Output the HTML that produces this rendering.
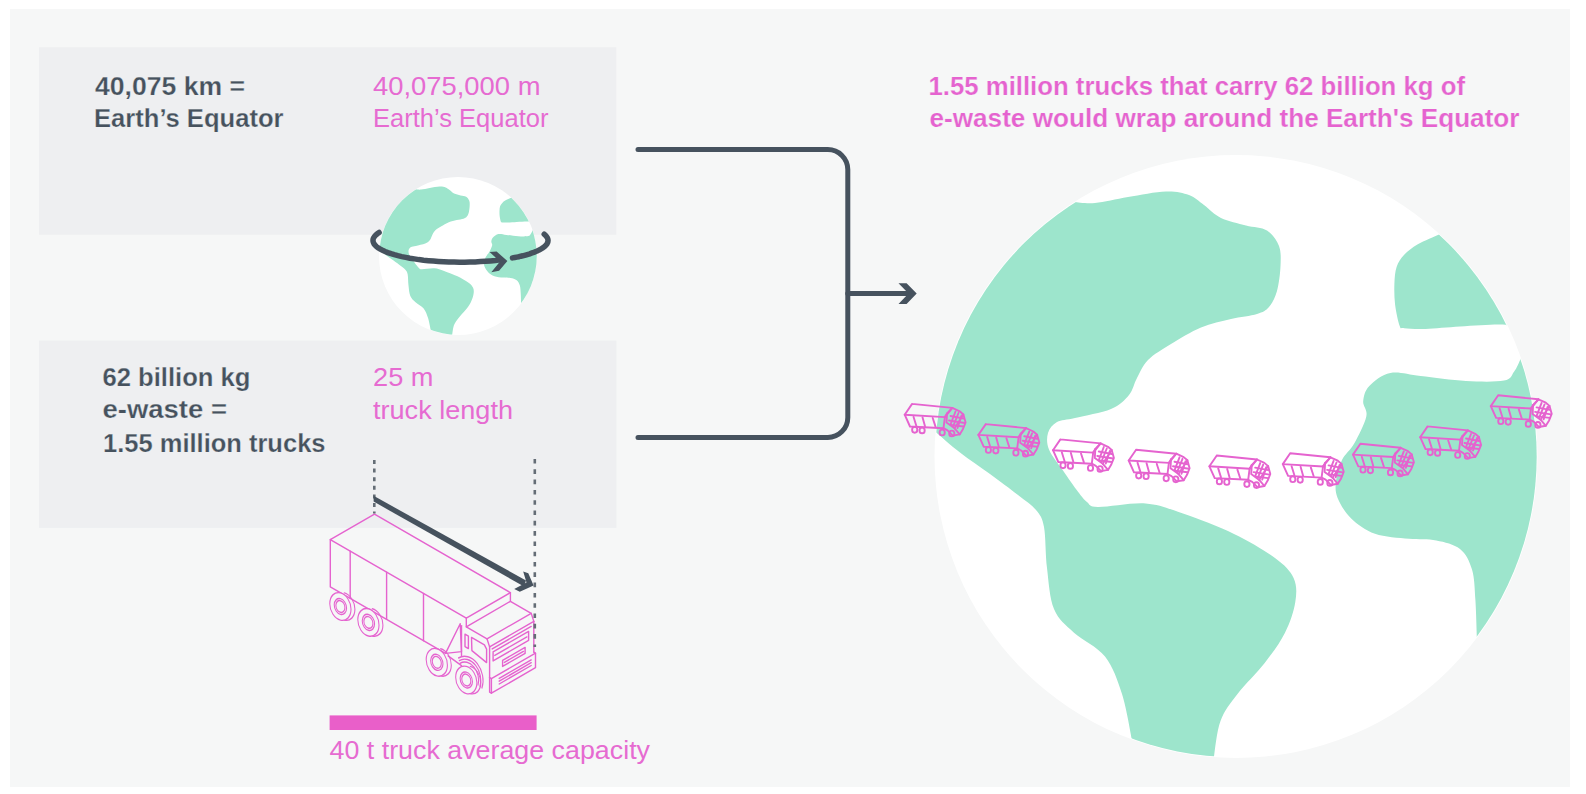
<!DOCTYPE html>
<html><head><meta charset="utf-8"><title>E-waste trucks</title>
<style>
html,body{margin:0;padding:0;background:#ffffff;width:1586px;height:794px;overflow:hidden}
svg{display:block}
text{font-family:"Liberation Sans",sans-serif}
</style></head><body>
<svg width="1586" height="794" viewBox="0 0 1586 794">
<defs>
<clipPath id="gclip"><circle cx="1236" cy="456.5" r="300.7"/></clipPath>
<g id="globe">
<circle cx="1236" cy="456.5" r="301.5" fill="#ffffff"/>
<g clip-path="url(#gclip)" fill="#9de5cc">
<path d="M1074.0,202.0 C1077.5,202.2 1086.0,203.8 1095.0,203.0 C1104.0,202.2 1116.2,198.9 1128.0,197.0 C1139.8,195.1 1155.8,191.8 1166.0,191.5 C1176.2,191.2 1182.7,192.8 1189.0,195.0 C1195.3,197.2 1198.7,201.2 1204.0,205.0 C1209.3,208.8 1214.0,214.6 1221.0,218.0 C1228.0,221.4 1238.3,223.4 1246.0,225.5 C1253.7,227.6 1261.5,227.1 1267.0,230.5 C1272.5,233.9 1276.8,240.1 1279.0,246.0 C1281.2,251.9 1280.8,258.5 1280.5,266.0 C1280.2,273.5 1278.9,284.2 1277.0,291.0 C1275.1,297.8 1272.3,303.2 1269.0,307.0 C1265.7,310.8 1263.3,312.0 1257.0,314.0 C1250.7,316.0 1240.3,316.8 1231.0,319.0 C1221.7,321.2 1211.0,323.3 1201.0,327.5 C1191.0,331.7 1179.8,338.6 1171.0,344.0 C1162.2,349.4 1153.7,354.3 1148.0,360.0 C1142.3,365.7 1140.2,372.2 1137.0,378.0 C1133.8,383.8 1133.3,389.8 1129.0,395.0 C1124.7,400.2 1120.0,405.2 1111.0,409.0 C1102.0,412.8 1084.0,415.8 1075.0,418.0 C1066.0,420.2 1061.5,419.5 1057.0,422.0 C1052.5,424.5 1049.3,428.4 1048.0,433.0 C1046.7,437.6 1046.5,443.2 1049.0,449.5 C1051.5,455.8 1058.2,463.6 1063.0,470.6 C1067.8,477.7 1074.0,486.6 1078.0,491.8 C1082.0,497.0 1083.7,499.5 1087.0,502.0 C1090.3,504.5 1088.2,506.8 1098.0,507.0 C1107.8,507.2 1131.4,502.3 1145.6,503.4 C1159.8,504.5 1168.3,508.5 1183.0,513.6 C1197.7,518.7 1218.7,526.6 1234.0,534.0 C1249.3,541.4 1265.1,550.7 1275.0,558.0 C1284.9,565.3 1290.2,570.7 1293.6,578.0 C1297.0,585.3 1296.7,592.9 1295.3,602.0 C1293.9,611.1 1290.1,622.5 1285.0,632.7 C1279.9,642.9 1272.6,652.8 1264.7,663.0 C1256.8,673.2 1244.9,684.3 1237.5,694.0 C1230.1,703.7 1224.5,710.2 1220.5,721.0 C1216.5,731.8 1214.8,752.2 1213.7,758.5 L1213.0,800.0 L1130.0,800.0 L1132.0,740.0 C1130.3,732.3 1126.5,707.9 1122.0,694.0 C1117.5,680.1 1113.0,666.7 1105.0,656.5 C1097.0,646.3 1082.5,640.6 1074.0,632.7 C1065.5,624.8 1058.5,619.8 1054.0,609.0 C1049.5,598.2 1048.7,581.7 1047.0,568.0 C1045.3,554.3 1045.8,536.7 1044.0,527.0 C1042.2,517.3 1040.3,515.3 1036.0,510.0 C1031.7,504.7 1025.7,501.0 1018.0,495.0 C1010.3,489.0 999.7,481.1 990.0,474.0 C980.3,466.9 969.2,459.7 960.0,452.5 C950.8,445.3 938.8,434.6 934.5,431.0 L880.0,431.0 L880.0,140.0 L1060.0,140.0Z"/>
<path d="M1439.0,234.4 C1435.5,236.0 1423.6,240.8 1417.8,244.2 C1412.0,247.6 1407.7,251.0 1404.2,254.8 C1400.7,258.6 1398.2,262.1 1396.6,266.9 C1395.0,271.7 1394.7,277.2 1394.4,283.5 C1394.2,289.8 1394.2,297.6 1395.1,304.7 C1396.0,311.8 1398.2,322.0 1399.7,325.9 C1401.2,329.8 1399.9,327.7 1404.2,328.2 C1408.5,328.7 1416.1,329.2 1425.4,328.9 C1434.7,328.6 1447.9,327.2 1460.0,326.5 C1472.1,325.8 1490.0,324.8 1497.8,324.6 C1505.6,324.4 1505.1,325.1 1506.6,325.2 L1600.0,325.0 L1600.0,180.0 L1460.0,180.0Z"/>
<path d="M1520.5,359.2 C1519.4,361.3 1516.8,368.2 1514.0,371.8 C1511.2,375.4 1512.0,379.1 1504.0,380.6 C1496.0,382.1 1479.9,381.8 1466.0,381.0 C1452.1,380.2 1433.2,377.3 1420.6,376.0 C1408.0,374.7 1399.0,371.3 1390.4,373.0 C1381.9,374.7 1373.8,381.3 1369.3,386.0 C1364.8,390.7 1363.7,396.2 1363.2,401.3 C1362.7,406.4 1367.8,409.3 1366.3,416.4 C1364.8,423.4 1358.2,436.3 1354.2,443.6 C1350.2,450.9 1345.0,453.8 1342.0,460.0 C1339.0,466.2 1336.7,474.7 1336.0,481.0 C1335.3,487.3 1335.1,491.8 1337.6,498.0 C1340.1,504.2 1345.0,512.4 1351.2,518.4 C1357.4,524.4 1365.4,530.3 1375.0,533.7 C1384.6,537.1 1398.8,537.7 1409.0,538.8 C1419.2,539.9 1427.8,538.8 1436.3,540.5 C1444.8,542.2 1454.0,544.2 1460.0,549.0 C1466.0,553.8 1469.4,561.0 1472.0,569.5 C1474.6,578.0 1474.6,588.2 1475.4,600.0 C1476.2,611.8 1476.7,633.3 1477.0,640.0 L1600.0,640.0 L1600.0,355.0 L1522.0,355.0Z"/>
</g>
</g>
<symbol id="st" overflow="visible">
<g fill="none" stroke="#e563cf" stroke-width="1.9" stroke-linejoin="round" stroke-linecap="round">
<polyline points="11.1,3.9 51.3,7.9 43.9,17.1 3.7,14.7 11.1,3.9"/>
<polyline points="3.7,14.7 9.0,26.5 42.5,28.2 43.9,17.1"/>
<polyline points="12.5,16.8 15.3,25.8"/>
<polyline points="21.5,17.3 24.0,26.3"/>
<polyline points="31.7,18.0 34.6,26.9"/>
<polyline points="51.3,7.9 58.7,11.3 62.4,14.5 64.6,22.4 62.0,29.0 58.7,34.4 51.8,35.6 46.5,30.3 42.5,28.2"/>
<polyline points="43.9,17.1 46.0,13.5 51.3,7.9"/>
<polyline points="46.0,13.5 45.5,22.5 53.5,28.3 58.7,34.4"/>
<polyline points="53.5,28.3 62.4,14.5"/>
<polyline points="54.5,11.5 49.5,24.5"/>
<polyline points="57.5,13.0 52.0,26.5"/>
<polyline points="60.5,15.5 56.5,28.0"/>
<polyline points="49.5,16.0 62.5,18.5"/>
<polyline points="48.0,20.5 63.8,23.0"/>
<polyline points="50.0,25.0 62.5,26.5"/>
<ellipse cx="13.7" cy="29.8" rx="2.6" ry="2.9"/>
<ellipse cx="21.1" cy="30.4" rx="2.6" ry="2.9"/>
<ellipse cx="41.2" cy="32.5" rx="2.6" ry="2.9"/>
<ellipse cx="50.8" cy="33.5" rx="2.6" ry="2.9"/>
</g>
<g fill="none" stroke="#e563cf" stroke-width="1.9" stroke-linejoin="round" stroke-linecap="round"><path d="M0,0"/></g>
</symbol>
</defs>
<rect x="10" y="9" width="1560" height="778" fill="#f6f7f7"/>
<rect x="39" y="47.2" width="577.3" height="187.6" fill="#eeeff1"/>
<rect x="39" y="340.6" width="577.4" height="187.3" fill="#eeeff1"/>

<!-- texts -->
<g fill="#46525e" font-weight="bold" font-size="26.5" stroke="#eeeff1" stroke-width="0.25">
<text x="95" y="94.6" textLength="150" lengthAdjust="spacingAndGlyphs">40,075 km =</text>
<text x="94" y="127.4" textLength="189.5" lengthAdjust="spacingAndGlyphs">Earth’s Equator</text>
<text x="102.5" y="386" textLength="148" lengthAdjust="spacingAndGlyphs">62 billion kg</text>
<text x="102.5" y="418.3" textLength="124.5" lengthAdjust="spacingAndGlyphs">e-waste =</text>
<text x="103" y="451.6" textLength="222.5" lengthAdjust="spacingAndGlyphs">1.55 million trucks</text>
</g>
<g fill="#e66bd1" font-size="26.5">
<text x="373" y="94.6" textLength="167.5" lengthAdjust="spacingAndGlyphs">40,075,000 m</text>
<text x="373" y="127.4" textLength="175.5" lengthAdjust="spacingAndGlyphs">Earth’s Equator</text>
<text x="373" y="386" textLength="60.5" lengthAdjust="spacingAndGlyphs">25 m</text>
<text x="373" y="418.5" textLength="140" lengthAdjust="spacingAndGlyphs">truck length</text>
<text x="329.5" y="759" textLength="320.5" lengthAdjust="spacingAndGlyphs">40 t truck average capacity</text>
</g>
<g fill="#e563cf" font-weight="bold" font-size="26.5" stroke="#f6f7f7" stroke-width="0.2">
<text x="928.5" y="94.5" textLength="536.5" lengthAdjust="spacingAndGlyphs">1.55 million trucks that carry 62 billion kg of</text>
<text x="929.5" y="127.3" textLength="590" lengthAdjust="spacingAndGlyphs">e-waste would wrap around the Earth's Equator</text>
</g>

<!-- small globe -->
<use href="#globe" transform="translate(458,256) scale(0.26202) translate(-1236,-456.5)"/>
<!-- ring arrow -->
<g fill="none" stroke="#46525e" stroke-width="5.5" stroke-linecap="round">
<path d="M379.1,232.5 L377.3,233.8 L375.8,235.0 L374.6,236.3 L373.8,237.6 L373.2,238.9 L373.0,240.2 L373.1,241.5 L373.5,242.8 L374.2,244.1 L375.3,245.4 L376.6,246.7 L378.3,247.9 L380.3,249.2 L382.5,250.3 L385.1,251.5 L387.9,252.6 L391.0,253.7 L394.3,254.7 L397.9,255.7 L401.7,256.6 L405.7,257.4 L409.9,258.2 L414.3,258.9 L418.9,259.6 L423.6,260.2 L428.5,260.7 L433.4,261.1 L438.5,261.5 L443.7,261.8 L448.9,262.0 L454.1,262.1 L459.4,262.2 L464.7,262.2 L470.0,262.1 L475.2,261.9 L480.4,261.6 L485.5,261.3 L490.5,260.9 L495.4,260.4 L500.2,259.8"/>
<path d="M544.2,234.2 L544.9,234.8 L545.6,235.4 L546.2,236.1 L546.7,236.8 L547.1,237.4 L547.5,238.1 L547.7,238.7 L547.9,239.4 L548.0,240.1 L548.0,240.7 L547.9,241.4 L547.8,242.1 L547.5,242.7 L547.2,243.4 L546.8,244.1 L546.3,244.7 L545.8,245.4 L545.1,246.0 L544.4,246.7 L543.6,247.3 L542.7,247.9 L541.8,248.5 L540.7,249.2 L539.6,249.8 L538.4,250.4 L537.2,251.0 L535.8,251.5 L534.4,252.1 L532.9,252.7 L531.4,253.2 L529.8,253.8 L528.1,254.3 L526.4,254.8 L524.6,255.3 L522.7,255.8 L520.8,256.2 L518.8,256.7 L516.8,257.1 L514.7,257.5 L512.5,257.9"/>
</g>
<polygon fill="#46525e" points="489.6,252.1 496.6,251.6 507.4,260.9 499.1,270.7 491.3,272.2 500,261.5"/>

<!-- connectors -->
<g fill="none" stroke="#46525e" stroke-width="5" stroke-linecap="round" stroke-linejoin="round">
<path d="M638,149.6 H827.8 A20,20 0 0 1 847.8,169.6 V417.4 A20,20 0 0 1 827.8,437.4 H638"/>
<path d="M847.8,293.6 H912"/>
</g>
<polygon fill="#46525e" points="898.5,283.2 906.6,283.2 916.7,293.6 906.6,304 898.5,304 908.5,293.6"/>

<!-- big globe -->
<use href="#globe"/>
<use href="#st" x="901.0" y="400.0"/>
<use href="#st" x="974.7" y="420.2"/>
<use href="#st" x="1049.3" y="435.5"/>
<use href="#st" x="1125.0" y="445.8"/>
<use href="#st" x="1205.7" y="451.6"/>
<use href="#st" x="1279.1" y="449.4"/>
<use href="#st" x="1349.3" y="439.9"/>
<use href="#st" x="1416.5" y="422.5"/>
<use href="#st" x="1487.1" y="391.4"/>

<!-- big truck -->
<g fill="none" stroke="#e563cf" stroke-width="1.4" stroke-linejoin="round" stroke-linecap="round">
<polyline points="330.3,539.6 466.3,618.1 510.4,592.6 374.5,514.1 330.3,539.6"/>
<polyline points="330.3,539.6 330.3,586.9 445.5,653.4"/>
<polyline points="350.2,551.1 350.2,598.4"/>
<polyline points="386.6,572.1 386.6,619.4"/>
<polyline points="423.5,593.4 423.5,640.7"/>
<polyline points="466.3,618.1 466.3,626.8 510.4,601.3 510.4,592.6"/>
<polyline points="466.3,626.8 487.0,638.8 489.6,646.9"/>
<polyline points="510.4,601.3 531.2,613.3 533.8,621.4"/>
<polyline points="487.0,638.8 531.2,613.3"/>
<polyline points="489.6,646.9 533.8,621.4"/>
<polyline points="489.6,646.9 489.6,677.6"/>
<polyline points="533.8,621.4 533.8,652.1"/>
<polyline points="489.6,677.6 491.4,678.6 535.5,653.1 533.8,652.1"/>
<polyline points="491.4,678.6 491.4,693.2 535.5,667.7 535.5,653.1"/>
<polyline points="489.6,677.6 489.6,692.2 491.4,693.2"/>
<polyline points="499.2,678.4 531.2,659.9"/>
<polyline points="499.2,681.2 531.2,662.7"/>
<polyline points="499.2,684.0 531.2,665.5"/>
<polyline points="493.1,651.9 528.6,631.4 528.6,640.4 493.1,660.9 493.1,651.9"/>
<polyline points="492.2,648.9 531.2,626.4"/>
<polyline points="494.8,655.4 526.9,636.9"/>
<polyline points="502.6,660.4 525.1,647.4 525.1,653.4 502.6,666.4 502.6,660.4"/>
<polyline points="504.4,662.4 523.4,651.4"/>
<polyline points="461.5,625.6 461.5,655.6"/>
<polyline points="471.5,637.4 484.4,644.9 486.6,649.1 486.6,662.6 471.9,650.6 471.5,637.4"/>
<polyline points="465.0,634.2 468.4,636.2 468.4,648.6 465.0,646.6 465.0,634.2"/>
<polyline points="460.2,623.8 445.5,653.4 461.5,651.6 460.2,623.8"/>
<polyline points="448.1,655.9 461.5,665.6"/>
<g transform="matrix(0.78,0.2,0,1,340.4,606.5)"><path d="M0,-13.6 A13.6,13.6 0 0 1 0,13.6" transform="translate(5,-1)"/><circle r="13.6" fill="#f6f7f7"/><circle r="7.9"/><circle r="5.8"/></g>
<g transform="matrix(0.78,0.2,0,1,368.4,622.4)"><path d="M0,-13.6 A13.6,13.6 0 0 1 0,13.6" transform="translate(5,-1)"/><circle r="13.6" fill="#f6f7f7"/><circle r="7.9"/><circle r="5.8"/></g>
<g transform="matrix(0.78,0.2,0,1,436.8,662.3)"><path d="M0,-13.6 A13.6,13.6 0 0 1 0,13.6" transform="translate(5,-1)"/><circle r="13.6" fill="#f6f7f7"/><circle r="7.9"/><circle r="5.8"/></g>
<g transform="matrix(0.78,0.2,0,1,466.3,680.0)"><path d="M0,-13.6 A13.6,13.6 0 0 1 0,13.6" transform="translate(5,-1)"/><circle r="13.6" fill="#f6f7f7"/><circle r="7.9"/><circle r="5.8"/></g>
<g transform="matrix(0.78,0.2,0,1,466.3,680.0)"><path d="M-8,-15 A15,15 0 0 1 15,2"/><path d="M-9,-17.5 A17.5,17.5 0 0 1 17.5,3"/><path d="M-10,-20 A20,20 0 0 1 20,4"/></g>
</g>
<!-- dotted lines + arrow -->
<g stroke="#646d76" stroke-width="2.6" fill="none">
<path d="M374.3,460 V513.5" stroke-dasharray="4 4.6"/>
<path d="M534.8,459 V647" stroke-dasharray="4.6 5.7"/>
</g>
<polygon fill="#46525e" points="373.6,495.8 526,580.5 524,586.5 373.6,501.6"/>
<polygon fill="#46525e" points="523.2,571.4 528.3,573.2 533.6,585.6 519.8,591.8 514.2,589 526.5,582.5"/>

<rect x="329.6" y="715.4" width="207" height="14.6" fill="#e95fc9"/>
</svg>
</body></html>
